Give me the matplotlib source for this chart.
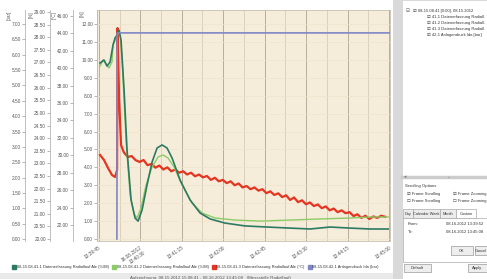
import matplotlib
matplotlib.use('Agg')
import matplotlib.pyplot as plt
from matplotlib.patches import Rectangle
import numpy as np

plt.rcParams['font.family'] = ['Liberation Sans', 'DejaVu Sans']

# ---- data (seconds from start of window, values in axis units) ----
teal_t = [1.3, 5.6, 8.9, 12.2, 15.4, 17.6, 19.8, 21.9, 24.1, 27.4, 30.6, 35.0, 39.3, 42.6,
          46.9, 52.3, 57.8, 63.2, 68.6, 74.0, 79.5, 88.2, 99.0, 109.9, 120.8, 137.0, 158.8,
          182.6, 207.6, 229.3, 251.0, 272.7, 294.5, 314.0]
teal_v = [9.82, 9.99, 9.65, 9.88, 10.83, 11.22, 11.38, 11.66, 11.10, 8.31, 4.97, 2.18, 1.17, 1.00,
          1.62, 3.01, 4.30, 5.08, 5.25, 5.08, 4.52, 3.29, 2.18, 1.45, 1.12, 0.89, 0.73,
          0.67, 0.61, 0.56, 0.67, 0.61, 0.56, 0.56]

lgreen_t = [1.3, 4.6, 7.8, 11.1, 14.3, 15.4, 18.7, 20.8, 23.0, 25.2, 29.5, 33.9, 38.2, 41.5,
            45.8, 51.2, 57.8, 64.3, 69.7, 75.1, 81.6, 90.4, 101.2, 112.0, 126.3, 148.0,
            175.2, 207.6, 240.2, 272.7, 294.5, 314.0]
lgreen_v = [9.65, 9.99, 9.77, 9.54, 9.88, 10.83, 11.22, 11.50, 11.38, 9.99, 5.52, 2.46, 1.40, 1.17,
            1.73, 3.01, 4.02, 4.58, 4.69, 4.52, 4.02, 3.01, 2.01, 1.45, 1.17, 1.06,
            1.00, 1.06, 1.12, 1.17, 1.23, 1.23]

red_start_t = [1.3, 5.6, 10.0, 14.3, 17.6, 19.8, 20.3, 22.0, 24.1]
red_start_v = [4.69, 4.41, 3.96, 3.57, 3.46, 3.85, 11.77, 7.76, 5.25]
red_v = [4.85, 4.58, 4.63, 4.40, 4.30, 4.41, 4.12, 4.19, 3.98, 4.10, 3.88, 4.00, 3.78, 3.88,
         3.70, 3.78, 3.60, 3.70, 3.50, 3.60, 3.44, 3.52, 3.30, 3.42, 3.22, 3.30, 3.12, 3.22,
         3.00, 3.10, 2.88, 2.96, 2.78, 2.88, 2.70, 2.78, 2.56, 2.66, 2.46, 2.55, 2.34, 2.44,
         2.18, 2.32, 2.06, 2.16, 1.94, 2.04, 1.84, 1.93, 1.72, 1.82, 1.60, 1.70, 1.50, 1.60,
         1.44, 1.50, 1.28, 1.38, 1.18, 1.30, 1.12, 1.26, 1.18, 1.30, 1.24]
red_t = list(27 + 4.3 * np.arange(len(red_v)))

blue_t = [19.6, 20.0, 316.0]
blue_v = [0.0, 6.71, 6.71]

x_ticks = [0, 45, 90, 135, 180, 225, 270, 315]
x_labels = ['13:39:45', '16.08.2012\n13:40:30', '13:41:15', '13:42:00',
            '13:42:45', '13:43:30', '13:44:15', '13:45:00']

legend_labels = ['08-15.08.41-1 Datenerfassung Radiallauf Ale (%/M)',
                 '08-15.08.41-2 Datenerfassung Radiallauf Ale (%/M)',
                 '08-15.08.41-3 Datenerfassung Radiallauf Ale (°C)',
                 '08-15.08.42-1 Anlagendruck Ida (bar)']
colors = ['#2c7a62', '#8ccc66', '#e5341f', '#7f87c6']

W, H = 487, 279


def fx(px):
    return px / W


def fy(py):
    return 1 - py / H


fig = plt.figure(figsize=(W / 100, H / 100), dpi=100)
fig.patch.set_facecolor('white')

# bottom band + right separator
fig.patches.append(Rectangle((0, 0), 1, fy(273), transform=fig.transFigure,
                             facecolor='#e9e9e9', edgecolor='none', zorder=0))
fig.patches.append(Rectangle((fx(393), 0), fx(9), 1, transform=fig.transFigure,
                             facecolor='#d9d9d9', edgecolor='none', zorder=0))

rect = [fx(97), fy(241), fx(390) - fx(97), fy(10) - fy(241)]
ax = fig.add_axes(rect)
ax.set_facecolor('#f6ecda')
ax.set_xlim(-2, 316)
ax.set_ylim(-0.11, 12.78)

tick_kw = dict(labelsize=3.4, labelcolor='#555555', colors='#999999', length=2, width=0.5, pad=1)


def style_left(a, ticks, fmt):
    a.set_yticks(ticks)
    a.set_yticklabels([fmt % v for v in ticks])
    a.tick_params(axis='y', **tick_kw)
    a.spines['left'].set_color('#b5b5b5')
    a.spines['left'].set_linewidth(0.6)


# extra left axes: spine x, limits, ticks, unit, unit x
axes_cfg = [(25, (-0.065, 7.456), np.arange(0, 7.01, 0.5), '[bar]', 9),
            (50, (19.92, 29.08), np.arange(20, 29.01, 0.5), '[%]', 31),
            (73, (20.16, 46.69), np.arange(22, 46.01, 2), '[°C]', 54)]
extra = []
for xpos, lim, ticks, unit, ux in axes_cfg:
    a = fig.add_axes(rect, sharex=ax)
    a.set_facecolor('none')
    for s in ['top', 'right', 'bottom']:
        a.spines[s].set_visible(False)
    a.spines['left'].set_position(('axes', -(97 - xpos) / 293))
    a.set_ylim(*lim)
    style_left(a, ticks, '%.2f')
    a.xaxis.set_visible(False)
    fig.text(fx(ux), fy(15), unit, rotation=90, fontsize=3.3, color='#555555',
             ha='center', va='center')
    extra.append(a)
fig.text(fx(82), fy(14), '[%]', rotation=90, fontsize=3.3, color='#555555',
         ha='center', va='center')

style_left(ax, np.arange(0, 12.01, 1), '%.2f')
for s in ['top', 'right', 'bottom']:
    ax.spines[s].set_color('#c8bfae')
    ax.spines[s].set_linewidth(0.6)

ax.set_xticks(x_ticks)
ax.set_xticks([22.5 + 45 * k for k in range(7)], minor=True)
ax.set_xticklabels(x_labels, rotation=35, ha='right', rotation_mode='anchor')
ax.tick_params(axis='x', which='both', length=0, labelsize=3.4, labelcolor='#555555', pad=3)
ax.grid(which='major', axis='x', color='#b7ad9c', lw=0.7)
ax.grid(which='minor', axis='x', color='#d6cbb6', lw=0.6)
ax.grid(which='major', axis='y', color='#efe3cc', lw=0.5)
ax.set_axisbelow(True)

ax.plot(red_start_t + red_t, red_start_v + red_v, color=colors[2], lw=1.6, zorder=3)
ax.plot(lgreen_t, lgreen_v, color=colors[1], lw=1.0, zorder=4)
ax.plot(teal_t, teal_v, color=colors[0], lw=1.2, zorder=5)
extra[0].plot(blue_t, blue_v, color=colors[3], lw=1.2, zorder=6)

handles = [plt.Line2D([], [], marker='s', ls='none', color=c, markersize=2.3) for c in colors]
fig.legend(handles, legend_labels, loc='center', bbox_to_anchor=(fx(196), fy(267)), ncol=4,
           fontsize=2.9, frameon=False, handlelength=0.7, handletextpad=0.3,
           columnspacing=0.9, labelcolor='#333333', borderpad=0)
fig.text(fx(210), fy(278), 'Aufzeichnung: 08.15.2012 15:08:41 - 08.16.2012 13:45:08   (Messstelle Radiallauf)',
         fontsize=3.2, color='#555555', ha='center', va='center')

# ---- right panel ----
fig.patches.append(Rectangle((fx(402), 0), fx(85), 1, transform=fig.transFigure,
                             facecolor='white', edgecolor='#c9c9c9', lw=0.5, zorder=0))
tree = ['☑ 08-15.08.41 [0:00], 08.15.2012',
        '☑ 41-1 Datenerfassung Radiall.',
        '☑ 41-2 Datenerfassung Radiall.',
        '☑ 41-3 Datenerfassung Radiall.',
        '☑ 42-1 Anlagendruck Ida [bar]']
fig.text(fx(406), fy(11), '⊟', fontsize=3.4, color='#666666', va='center')
for i, s in enumerate(tree):
    fig.text(fx(413 if i == 0 else 427), fy(11 + 6 * i), s, fontsize=3.0,
             color='#333333', va='center')

fig.lines.append(plt.Line2D([fx(402), fx(487)], [fy(177), fy(177)], transform=fig.transFigure,
                            color='#cccccc', lw=2.5))
fig.text(fx(404), fy(177), '◂', fontsize=3.4, color='#777777', va='center')
fig.text(fx(448), fy(177), '▪', fontsize=3.4, color='#999999', va='center')
fig.text(fx(405), fy(186), 'Scrolling Options', fontsize=3.1, color='#333333', va='center')
fig.text(fx(407), fy(194), '☑ Frame Scrolling', fontsize=3.0, color='#333333', va='center')
fig.text(fx(453), fy(194), '☑ Frame Zooming', fontsize=3.0, color='#333333', va='center')
fig.text(fx(407), fy(201), '☐ Frame Scrolling', fontsize=3.0, color='#333333', va='center')
fig.text(fx(453), fy(201), '☐ Frame Zooming', fontsize=3.0, color='#333333', va='center')

fig.patches.append(Rectangle((fx(403), fy(262)), fx(84), fy(218) - fy(262), transform=fig.transFigure,
                             facecolor='white', edgecolor='#aaaaaa', lw=0.5))
tabs = [('Day', 403, 413), ('Calendar Week', 413, 440), ('Month', 440, 456), ('Custom', 456, 476)]
for name, x0, x1 in tabs:
    sel = name == 'Custom'
    fig.patches.append(Rectangle((fx(x0), fy(218)), fx(x1 - x0), fy(209) - fy(218),
                                 transform=fig.transFigure,
                                 facecolor='white' if sel else '#ececec', edgecolor='#aaaaaa', lw=0.5))
    fig.text(fx((x0 + x1) / 2), fy(214), name, fontsize=2.8, color='#333333', ha='center', va='center')
fig.text(fx(408), fy(224), 'From:', fontsize=3.1, color='#333333', va='center')
fig.text(fx(446), fy(224), '08.16.2012 13:39:52', fontsize=3.0, color='#333333', va='center')
fig.text(fx(408), fy(232), 'To:', fontsize=3.1, color='#333333', va='center')
fig.text(fx(446), fy(232), '08.16.2012 13:45:08', fontsize=3.0, color='#333333', va='center')
for name, x0, x1 in [('OK', 451, 473), ('Cancel', 475, 487)]:
    fig.patches.append(Rectangle((fx(x0), fy(255)), fx(x1 - x0), fy(246) - fy(255),
                                 transform=fig.transFigure, facecolor='#eeeeee',
                                 edgecolor='#999999', lw=0.5))
    fig.text(fx((x0 + x1) / 2), fy(250.5), name, fontsize=2.8, color='#333333', ha='center', va='center')
for name, x0, x1 in [('Default', 404, 431), ('Apply', 468, 487)]:
    fig.patches.append(Rectangle((fx(x0), fy(272)), fx(x1 - x0), fy(264) - fy(272),
                                 transform=fig.transFigure, facecolor='#eeeeee',
                                 edgecolor='#999999', lw=0.5))
    fig.text(fx((x0 + x1) / 2), fy(268), name, fontsize=3.0, color='#333333', ha='center', va='center')

fig.savefig('out.png', dpi=100)
